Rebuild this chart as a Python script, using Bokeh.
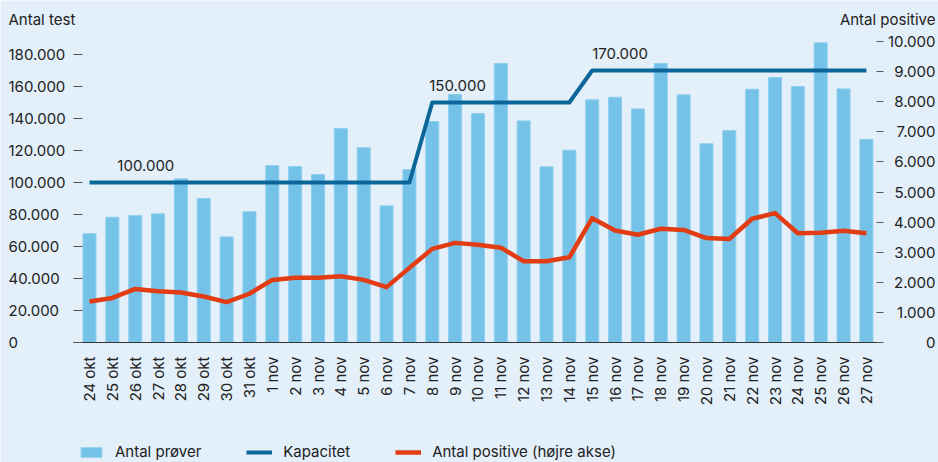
import math
from bokeh.plotting import figure
from bokeh.models import (ColumnDataSource, Range1d, LinearAxis, FixedTicker,
                          Label, Legend, LegendItem)
from bokeh.core.properties import value
from bokeh.embed import file_html
from bokeh.resources import INLINE

# ---------------- data ----------------
dates = ["24 okt", "25 okt", "26 okt", "27 okt", "28 okt", "29 okt", "30 okt", "31 okt",
         "1 nov", "2 nov", "3 nov", "4 nov", "5 nov", "6 nov", "7 nov", "8 nov", "9 nov",
         "10 nov", "11 nov", "12 nov", "13 nov", "14 nov", "15 nov", "16 nov", "17 nov",
         "18 nov", "19 nov", "20 nov", "21 nov", "22 nov", "23 nov", "24 nov", "25 nov",
         "26 nov", "27 nov"]

antal_proever = [68000, 78300, 79400, 80400, 102300, 90000, 66000, 81700,
                 110600, 110000, 105000, 133700, 121700, 85400, 108100, 138100, 155000,
                 143100, 174400, 138500, 109800, 120200, 151700, 153300, 146000,
                 174400, 154800, 124200, 132500, 158300, 165600, 160000, 187300,
                 158500, 126900]

kapacitet = [100000] * 15 + [150000] * 7 + [170000] * 13

antal_positive = [1360, 1480, 1780, 1700, 1660, 1530, 1340, 1620,
                  2080, 2150, 2150, 2200, 2080, 1840, 2480, 3110, 3310,
                  3250, 3150, 2700, 2700, 2830, 4130, 3720, 3580,
                  3780, 3740, 3470, 3440, 4110, 4300, 3630, 3650,
                  3710, 3630]

left_ticks = [0, 20000, 40000, 60000, 80000, 100000, 120000, 140000, 160000, 180000]
left_tick_labels = ["0", "20.000", "40.000", "60.000", "80.000", "100.000",
                    "120.000", "140.000", "160.000", "180.000"]
right_ticks = [0, 1000, 2000, 3000, 4000, 5000, 6000, 7000, 8000, 9000, 10000]
right_tick_labels = ["0", "1.000", "2.000", "3.000", "4.000", "5.000", "6.000",
                     "7.000", "8.000", "9.000", "10.000"]

cap_label_dates = ["25 okt", "8 nov", "15 nov"]
cap_label_values = [100000, 150000, 170000]
cap_label_texts = ["100.000", "150.000", "170.000"]

left_title = "Antal test"
right_title = "Antal positive"
legend_labels = ["Antal prøver", "Kapacitet", "Antal positive (højre akse)"]

# ---------------- style / geometry ----------------
FONT = "Inter"
FS = "15px"
BG = "#e3eff9"
BAR = "#74c2e8"
BLUE = "#0b6699"
RED = "#e23c14"
TXT = "#222222"

W, H = 938, 462
X0_PX, X_STEP_PX = 89.0, 22.85      # pixel of first category centre, category spacing
Y0_PX = 342.0                        # pixel row of the zero line
LEFT_PX = 0.0016                     # px per test
RIGHT_PX = 0.0301                    # px per positive

def px_to_x(px):
    return (px - X0_PX) / X_STEP_PX

def y_left(py):
    return (Y0_PX - py) / LEFT_PX

def y_right(py):
    return (Y0_PX - py) / RIGHT_PX

idx = list(range(len(dates)))

p = figure(width=W, height=H,
           x_range=Range1d(px_to_x(0), px_to_x(W)),
           y_range=Range1d(y_left(H), y_left(0)),
           output_backend="svg", toolbar_location=None,
           min_border=0, min_border_left=0, min_border_right=0,
           min_border_top=0, min_border_bottom=0)
p.extra_y_ranges = {"pos": Range1d(y_right(H), y_right(0))}
p.background_fill_color = BG
p.border_fill_color = BG
p.outline_line_color = None
p.xgrid.visible = False
p.ygrid.visible = False

src = ColumnDataSource(dict(x=idx, proever=antal_proever, kap=kapacitet, pos=antal_positive))

bars = p.vbar(x="x", top="proever", width=0.57, source=src,
              fill_color=BAR, line_color="#8fcfee", line_width=1)
kap_line = p.line(x="x", y="kap", source=src, line_color=BLUE, line_width=4,
                  line_join="round")
pos_line = p.line(x="x", y="pos", source=src, line_color=RED, line_width=4.5,
                  line_join="round", y_range_name="pos")

lab_src = ColumnDataSource(dict(x=[dates.index(d) for d in cap_label_dates],
                                y=cap_label_values, t=cap_label_texts, xo=[5, -3, 0]))
p.text(x="x", y="y", text="t", source=lab_src, x_offset="xo", y_offset=-17,
       text_font=value(FONT), text_font_size=value(FS), text_color=TXT,
       text_baseline="middle", text_align="left")

# x axis (fixed at the zero line)
xa = p.xaxis[0]
xa.fixed_location = 0
xa.bounds = (px_to_x(73), px_to_x(880))
xa.ticker = FixedTicker(ticks=idx)
xa.major_label_overrides = {i: d for i, d in zip(idx, dates)}
xa.major_label_orientation = math.pi / 2
xa.major_tick_line_color = None
xa.major_tick_out = 0
xa.major_tick_in = 0
xa.minor_tick_line_color = None
xa.axis_line_color = "#333333"
xa.axis_line_width = 1
xa.major_label_standoff = 14
xa.major_label_text_font = FONT
xa.major_label_text_font_size = FS
xa.major_label_text_color = TXT

# left axis: ticks from the axis, labels left-aligned at the page edge
ya = p.yaxis[0]
ya.fixed_location = px_to_x(82)
ya.bounds = (0, left_ticks[-1])
ya.ticker = FixedTicker(ticks=left_ticks)
ya.axis_line_color = None
ya.major_tick_out = 9
ya.major_tick_in = 0
ya.major_tick_line_color = "#555555"
ya.minor_tick_line_color = None
ya.major_label_text_color = None

left_lab = ColumnDataSource(dict(x=[px_to_x(8)] * len(left_ticks), y=left_ticks,
                                 t=left_tick_labels))
p.text(x="x", y="y", text="t", source=left_lab,
       text_font=value(FONT), text_font_size=value(FS), text_color=TXT,
       text_baseline="middle", text_align="left")

# right axis: ticks from the axis, labels right-aligned at the page edge
ra = LinearAxis(y_range_name="pos", ticker=FixedTicker(ticks=right_ticks))
ra.fixed_location = px_to_x(876)
ra.bounds = (0, right_ticks[-1])
ra.axis_line_color = None
ra.major_tick_out = 7
ra.major_tick_in = 0
ra.major_tick_line_color = "#555555"
ra.minor_tick_line_color = None
ra.major_label_text_color = None
p.add_layout(ra, "right")

right_lab = ColumnDataSource(dict(x=[px_to_x(935)] * len(right_ticks), y=right_ticks,
                                  t=right_tick_labels))
p.text(x="x", y="y", text="t", source=right_lab, y_range_name="pos",
       text_font=value(FONT), text_font_size=value(FS), text_color=TXT,
       text_baseline="middle", text_align="right")

# axis titles (horizontal, above the plot area)
p.add_layout(Label(x=8, y=H - 19, x_units="screen", y_units="screen",
                   text=left_title, text_font=FONT, text_font_size=FS, text_color=TXT,
                   text_baseline="middle", text_align="left"))
p.add_layout(Label(x=935, y=H - 19, x_units="screen", y_units="screen",
                   text=right_title, text_font=FONT, text_font_size=FS, text_color=TXT,
                   text_baseline="middle", text_align="right"))

legend = Legend(items=[LegendItem(label=legend_labels[0], renderers=[bars]),
                       LegendItem(label=legend_labels[1], renderers=[kap_line]),
                       LegendItem(label=legend_labels[2], renderers=[pos_line])],
                orientation="horizontal", location=(78, 1),
                glyph_width=26, glyph_height=12, label_standoff=11, spacing=45,
                padding=0, margin=0, background_fill_alpha=0, border_line_color=None,
                label_text_font=FONT, label_text_font_size=FS, label_text_color=TXT)
p.add_layout(legend, "center")

open("out.html", "w").write(file_html(p, INLINE))
